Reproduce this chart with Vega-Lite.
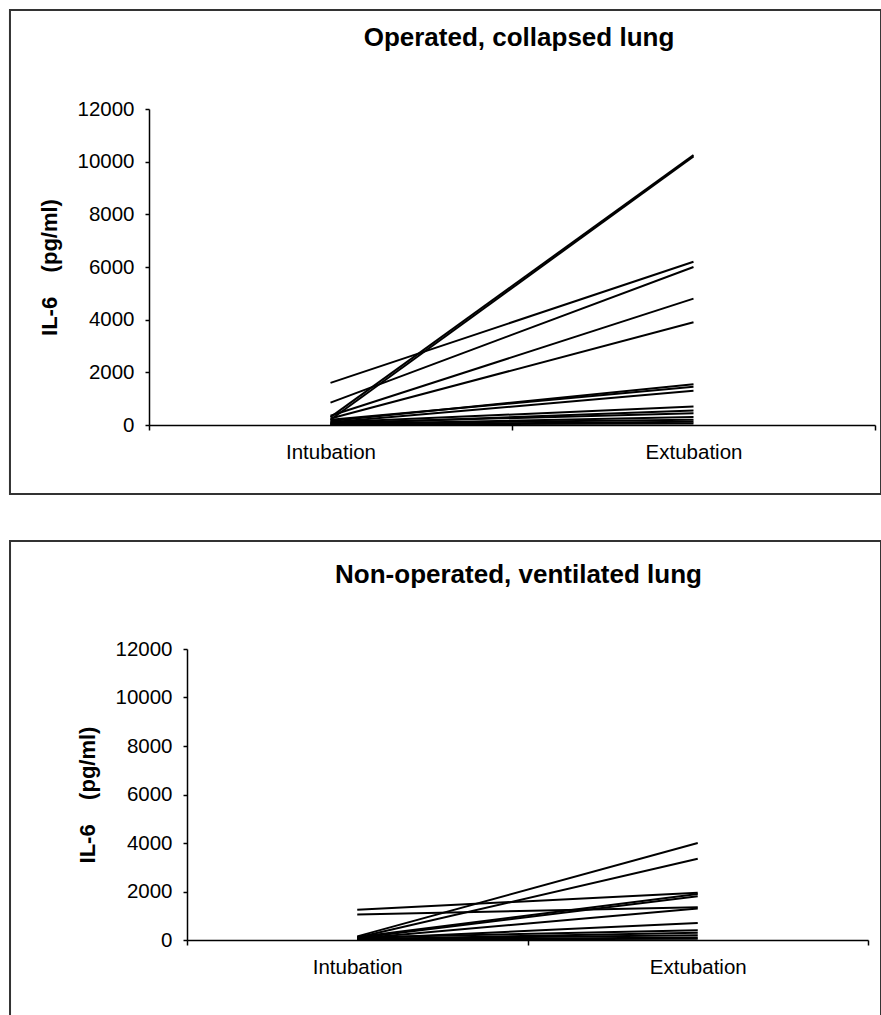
{
  "$schema": "https://vega.github.io/schema/vega-lite/v6.json",
  "padding": {"left": 8, "top": 8, "right": 0, "bottom": 0},
  "autosize": {"type": "pad"},
  "background": "white",
  "spacing": 44,
  "config": {
    "view": {"stroke": null},
    "font": "Liberation Sans",
    "axis": {"domainColor": "black", "tickColor": "black", "labelColor": "black", "titleColor": "black", "labelFont": "Liberation Sans", "titleFont": "Liberation Sans", "labelFontSize": 20.5, "titleFontSize": 22, "titleFontWeight": "bold", "grid": false, "domainWidth": 1.5, "tickWidth": 1.5, "tickSize": 5},
    "title": {"font": "Liberation Sans", "fontSize": 26, "fontWeight": "bold", "color": "black", "anchor": "middle"}
  },
  "datasets": {
    "operated": [
      {"id": 1, "time": "Intubation", "value": 1600}, {"id": 1, "time": "Extubation", "value": 6200},
      {"id": 2, "time": "Intubation", "value": 850}, {"id": 2, "time": "Extubation", "value": 6000},
      {"id": 3, "time": "Intubation", "value": 300}, {"id": 3, "time": "Extubation", "value": 10250},
      {"id": 4, "time": "Intubation", "value": 200}, {"id": 4, "time": "Extubation", "value": 10200},
      {"id": 5, "time": "Intubation", "value": 350}, {"id": 5, "time": "Extubation", "value": 4800},
      {"id": 6, "time": "Intubation", "value": 250}, {"id": 6, "time": "Extubation", "value": 3900},
      {"id": 7, "time": "Intubation", "value": 150}, {"id": 7, "time": "Extubation", "value": 1550},
      {"id": 8, "time": "Intubation", "value": 200}, {"id": 8, "time": "Extubation", "value": 1450},
      {"id": 9, "time": "Intubation", "value": 100}, {"id": 9, "time": "Extubation", "value": 1300},
      {"id": 10, "time": "Intubation", "value": 100}, {"id": 10, "time": "Extubation", "value": 700},
      {"id": 11, "time": "Intubation", "value": 50}, {"id": 11, "time": "Extubation", "value": 550},
      {"id": 12, "time": "Intubation", "value": 80}, {"id": 12, "time": "Extubation", "value": 450},
      {"id": 13, "time": "Intubation", "value": 30}, {"id": 13, "time": "Extubation", "value": 300},
      {"id": 14, "time": "Intubation", "value": 50}, {"id": 14, "time": "Extubation", "value": 200},
      {"id": 15, "time": "Intubation", "value": 20}, {"id": 15, "time": "Extubation", "value": 120},
      {"id": 16, "time": "Intubation", "value": 10}, {"id": 16, "time": "Extubation", "value": 60}
    ],
    "nonoperated": [
      {"id": 1, "time": "Intubation", "value": 1250}, {"id": 1, "time": "Extubation", "value": 1950},
      {"id": 2, "time": "Intubation", "value": 1050}, {"id": 2, "time": "Extubation", "value": 1350},
      {"id": 3, "time": "Intubation", "value": 150}, {"id": 3, "time": "Extubation", "value": 4000},
      {"id": 4, "time": "Intubation", "value": 100}, {"id": 4, "time": "Extubation", "value": 3350},
      {"id": 5, "time": "Intubation", "value": 120}, {"id": 5, "time": "Extubation", "value": 1900},
      {"id": 6, "time": "Intubation", "value": 80}, {"id": 6, "time": "Extubation", "value": 1800},
      {"id": 7, "time": "Intubation", "value": 60}, {"id": 7, "time": "Extubation", "value": 1300},
      {"id": 8, "time": "Intubation", "value": 50}, {"id": 8, "time": "Extubation", "value": 700},
      {"id": 9, "time": "Intubation", "value": 100}, {"id": 9, "time": "Extubation", "value": 400},
      {"id": 10, "time": "Intubation", "value": 30}, {"id": 10, "time": "Extubation", "value": 300},
      {"id": 11, "time": "Intubation", "value": 40}, {"id": 11, "time": "Extubation", "value": 200},
      {"id": 12, "time": "Intubation", "value": 20}, {"id": 12, "time": "Extubation", "value": 100},
      {"id": 13, "time": "Intubation", "value": 10}, {"id": 13, "time": "Extubation", "value": 50}
    ]
  },
  "vconcat": [
    {
      "title": {"text": "Operated, collapsed lung", "offset": -42, "dx": 7},
      "width": 726,
      "height": 316,
      "resolve": {"scale": {"x": "independent"}},
      "layer": [
        {
          "data": {"values": [{}]},
          "mark": {"type": "rect", "filled": false, "stroke": "#333333", "strokeWidth": 2, "clip": false},
          "encoding": {
            "x": {"datum": -0.1915, "type": "quantitative", "scale": {"domain": [0, 1], "nice": false, "zero": false}, "axis": null},
            "x2": {"datum": 1.0083},
            "y": {"datum": -2620, "type": "quantitative", "scale": {"domain": [0, 12000], "nice": false}},
            "y2": {"datum": 15760}
          }
        },
        {
          "data": {"name": "operated"},
          "mark": {"type": "line", "color": "black", "strokeWidth": 2},
          "encoding": {
            "x": {"field": "time", "type": "nominal", "sort": ["Intubation", "Extubation"], "scale": {"paddingInner": 0, "paddingOuter": 0}, "axis": {"title": null, "tickBand": "extent", "labelAngle": 0, "labelPadding": 12}},
            "y": {"field": "value", "type": "quantitative", "scale": {"domain": [0, 12000], "nice": false}, "axis": {"title": "IL-6\u00a0\u00a0\u00a0\u00a0(pg/ml)", "values": [0, 2000, 4000, 6000, 8000, 10000, 12000], "format": "d", "tickSize": 4, "labelPadding": 11, "titlePadding": 15}},
            "detail": {"field": "id", "type": "nominal"}
          }
        }
      ]
    },
    {
      "title": {"text": "Non-operated, ventilated lung", "offset": -48, "dx": 10},
      "width": 719,
      "height": 291,
      "resolve": {"scale": {"x": "independent"}},
      "layer": [
        {
          "data": {"values": [{}]},
          "mark": {"type": "rect", "filled": false, "stroke": "#333333", "strokeWidth": 2, "clip": false},
          "encoding": {
            "x": {"datum": -0.1933, "type": "quantitative", "scale": {"domain": [0, 1], "nice": false, "zero": false}, "axis": null},
            "x2": {"datum": 1.0181},
            "y": {"datum": -3500, "type": "quantitative", "scale": {"domain": [0, 12000], "nice": false}},
            "y2": {"datum": 16454}
          }
        },
        {
          "data": {"name": "nonoperated"},
          "mark": {"type": "line", "color": "black", "strokeWidth": 2},
          "encoding": {
            "x": {"field": "time", "type": "nominal", "sort": ["Intubation", "Extubation"], "scale": {"paddingInner": 0, "paddingOuter": 0, "range": [38, 719]}, "axis": {"title": null, "tickBand": "extent", "labelAngle": 0, "labelPadding": 12}},
            "y": {"field": "value", "type": "quantitative", "scale": {"domain": [0, 12000], "nice": false}, "axis": {"title": "IL-6\u00a0\u00a0\u00a0\u00a0(pg/ml)", "values": [0, 2000, 4000, 6000, 8000, 10000, 12000], "format": "d", "tickSize": 4, "labelPadding": 11, "titlePadding": 15, "offset": -38}},
            "detail": {"field": "id", "type": "nominal"}
          }
        }
      ]
    }
  ]
}
